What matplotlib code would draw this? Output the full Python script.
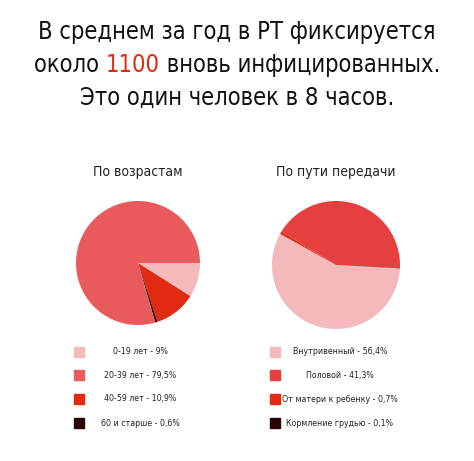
import matplotlib
matplotlib.use("Agg")
import matplotlib.pyplot as plt
from matplotlib.patches import Rectangle

age_labels = ["0-19 лет - 9%", "20-39 лет - 79,5%", "40-59 лет - 10,9%", "60 и старше - 0,6%"]
age_values = [9, 79.5, 10.9, 0.6]
route_labels = ["Внутривенный - 56,4%", "Половой - 41,3%", "От матери к ребенку - 0,7%", "Кормление грудью - 0,1%"]
route_values = [56.4, 41.3, 0.7, 0.1]

c_age = ["#f4b9ba", "#e95a5c", "#e02a12", "#2a0404"]
c_route = ["#f4b9ba", "#e53f3f", "#e02a12", "#2a0404"]

W, H = 474, 461
fig = plt.figure(figsize=(W/100, H/100), dpi=100)
FONT = dict(family="DejaVu Sans", stretch="condensed")

def fx(x): return x / W
def fy(y): return 1 - y / H

fs = 17
fig.text(0.5, fy(32), "В среднем за год в РТ фиксируется", ha="center", va="center", fontsize=fs, color="#111", **FONT)
fig.text(0.5, fy(98), "Это один человек в 8 часов.", ha="center", va="center", fontsize=fs, color="#111", **FONT)
parts = [("около ", "#111"), ("1100", "#e02a12"), (" вновь инфицированных.", "#111")]
r = fig.canvas.get_renderer()
ts = [fig.text(0, fy(65), p, ha="left", va="center", fontsize=fs, color=c, **FONT) for p, c in parts]
ws = [t.get_window_extent(r).width for t in ts]
x = (W - sum(ws)) / 2
for t, w in zip(ts, ws):
    t.set_x(fx(x)); x += w

def pie(cx, cy, rad, vals, cols, order, start):
    ax = fig.add_axes([fx(cx - rad), fy(cy + rad), fx(2 * rad), 2 * rad / H])
    ax.pie([vals[i] for i in order], colors=[cols[i] for i in order], startangle=start,
           counterclock=False, wedgeprops=dict(linewidth=0))
    ax.set_xlim(-1, 1); ax.set_ylim(-1, 1)
    ax.set_aspect("equal"); ax.axis("off")

pie(138, 263, 62, age_values, c_age, [0, 2, 3, 1], 0)
pie(336, 265, 64, route_values, c_route, [0, 2, 1, 3], -3)

fig.text(fx(138), fy(172), "По возрастам", ha="center", va="center", fontsize=10, color="#222", **FONT)
fig.text(fx(336), fy(172), "По пути передачи", ha="center", va="center", fontsize=10, color="#222", **FONT)

rows = [352, 375, 399, 423]
for i in range(4):
    y = rows[i]
    fig.patches.append(Rectangle((fx(74), fy(y + 5)), fx(10), 10 / H, color=c_age[i], transform=fig.transFigure))
    fig.text(fx(140), fy(y), age_labels[i], ha="center", va="center", fontsize=6.3, color="#222", **FONT)
    fig.patches.append(Rectangle((fx(270), fy(y + 5)), fx(10), 10 / H, color=c_route[i], transform=fig.transFigure))
    fig.text(fx(340), fy(y), route_labels[i], ha="center", va="center", fontsize=6.3, color="#222", **FONT)

fig.savefig("out.png", dpi=100, facecolor="white")
